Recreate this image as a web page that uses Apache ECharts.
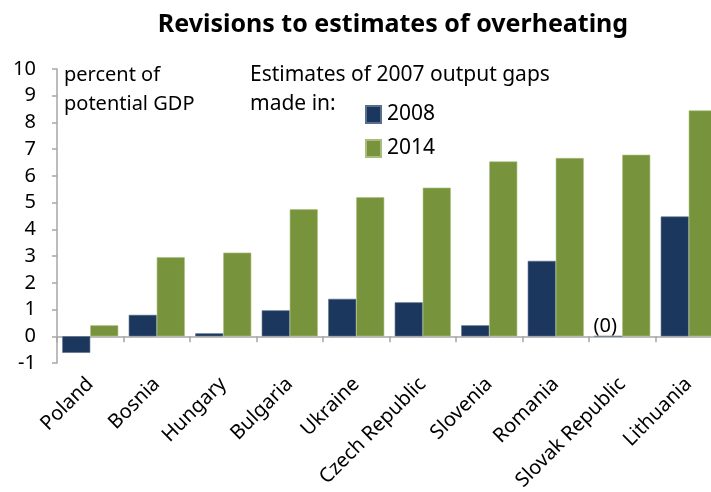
<!DOCTYPE html>
<html>
<head>
<meta charset="utf-8">
<script src="https://cdn.jsdelivr.net/npm/echarts@6/dist/echarts.min.js"></script>
<style>
  html, body { margin: 0; padding: 0; background: #fff; }
  #chart { width: 711px; height: 492px; }
</style>
</head>
<body>
<div id="chart"></div>
<script>
// Output gap estimates for 2007, percent of potential GDP
const countries = ['Poland', 'Bosnia', 'Hungary', 'Bulgaria', 'Ukraine',
  'Czech Republic', 'Slovenia', 'Romania', 'Slovak Republic', 'Lithuania'];
const made2008 = [-0.62, 0.8, 0.11, 0.97, 1.4, 1.27, 0.41, 2.82, 0, 4.48];
const made2014 = [0.41, 2.96, 3.13, 4.75, 5.2, 5.56, 6.54, 6.67, 6.79, 8.45];
const yTicks = { min: -1, max: 10, step: 1 };

const FONT = '"Noto Sans", "Open Sans", sans-serif';
const NAVY = '#1b375e';
const GREEN = '#77933c';
const AXIS = '#a6a6a6';

// The Slovak Republic 2008 estimate is zero; mark it with a text label
const navyData = made2008.map((v, i) =>
  countries[i] === 'Slovak Republic'
    ? { value: v, label: { show: true, position: 'top', distance: 0, offset: [-3, 0],
        formatter: '(' + v + ')', color: '#000', fontSize: 20, fontFamily: FONT } }
    : v);

const chart = echarts.init(document.getElementById('chart'), null, { renderer: 'canvas' });
chart.setOption({
  animation: false,
  backgroundColor: '#fff',
  title: {
    text: 'Revisions to estimates of overheating',
    left: 388, top: 7, textAlign: 'center',
    textStyle: { fontFamily: FONT, fontWeight: 'bold', fontSize: 25, color: '#000' }
  },
  legend: {
    orient: 'vertical', left: 360, top: 99,
    itemWidth: 15, itemHeight: 17, itemGap: 13,
    icon: 'rect',
    textStyle: { fontFamily: FONT, fontSize: 21, color: '#000', padding: [0, 0, 0, 1] },
    data: ['2008', '2014']
  },
  graphic: [
    { type: 'text', left: 64, top: 61,
      style: { text: 'percent of\npotential GDP', font: '20px ' + FONT, fill: '#000', lineHeight: 29 } },
    { type: 'text', left: 250, top: 61,
      style: { text: 'Estimates of 2007 output gaps\nmade in:', font: '21px ' + FONT, fill: '#000', lineHeight: 29 } }
  ],
  grid: { left: 57, top: 69, width: 665, bottom: 129, containLabel: false, outerBoundsMode: 'none' },
  xAxis: {
    type: 'category', data: countries,
    axisLine: { onZero: true, lineStyle: { color: AXIS, width: 1.5 } },
    axisTick: { show: true, length: 6, lineStyle: { color: AXIS, width: 1.5 } },
    axisLabel: { rotate: 45, margin: 18, interval: 0, fontFamily: FONT, fontSize: 20, color: '#000' }
  },
  yAxis: {
    type: 'value', min: yTicks.min, max: yTicks.max, interval: yTicks.step,
    axisLine: { show: true, lineStyle: { color: AXIS, width: 1.5 } },
    axisTick: { show: true, length: 5, lineStyle: { color: AXIS, width: 1.5 } },
    splitLine: { show: false },
    axisLabel: { margin: 21, fontFamily: FONT, fontSize: 20, color: '#000' }
  },
  series: [
    { name: '2008', type: 'bar', data: navyData, barWidth: 28, barGap: '0%',
      itemStyle: { color: NAVY, borderColor: '#5a6f8c', borderWidth: 0.6 } },
    { name: '2014', type: 'bar', data: made2014, barWidth: 28,
      itemStyle: { color: GREEN, borderColor: '#a8bd7c', borderWidth: 0.6 } }
  ]
});
</script>
</body>
</html>
